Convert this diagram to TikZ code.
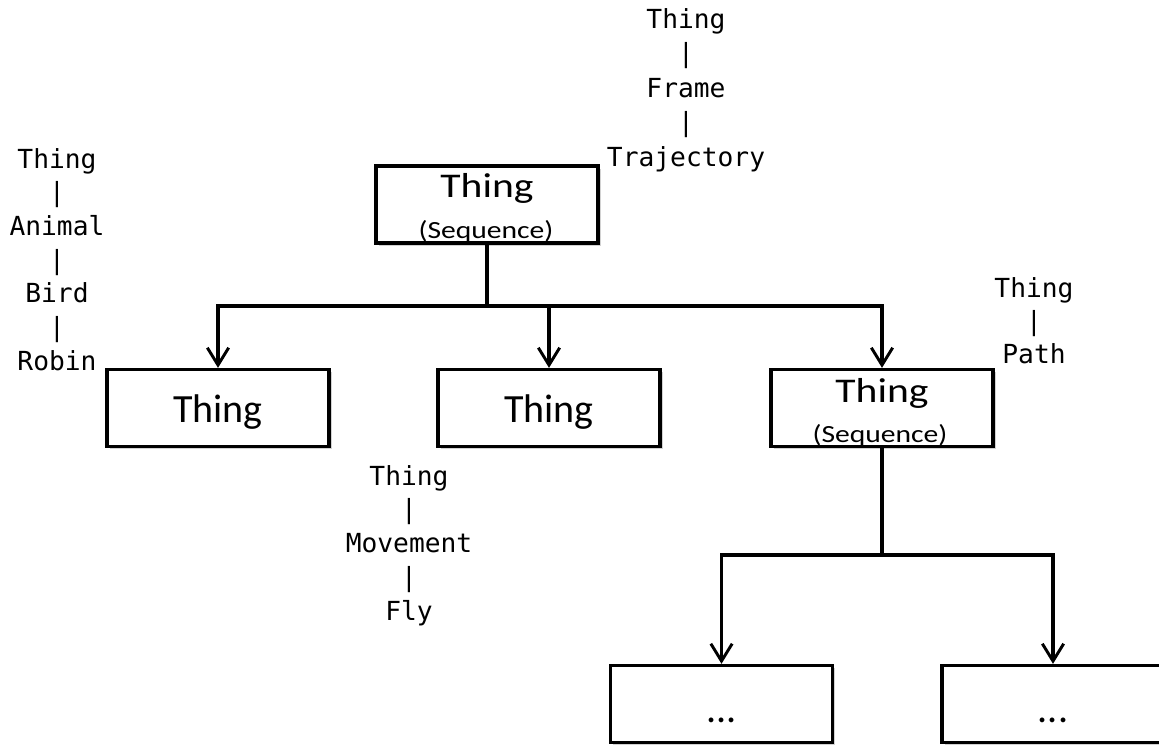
\documentclass[tikz,border=0pt]{standalone}
\usepackage{fontspec}
\setmainfont{Carlito}
\newfontfamily\labelmono{DejaVu Sans Mono}
\usetikzlibrary{arrows.meta,shadows}

\begin{document}
\begin{tikzpicture}[x=0.75pt,y=-0.75pt,
  box/.style={draw, line width=2.5pt, fill=white, inner sep=0pt,
    minimum width=166.5pt, minimum height=57.75pt,
    drop shadow={shadow xshift=2pt, shadow yshift=-2pt, fill=black!35, opacity=0.5}},
  conn/.style={line width=2.4pt},
  arr/.style={conn, -{Straight Barb[length=13pt,width=16pt,line width=2.2pt]}},
  mono/.style={font=\labelmono\fontsize{19.7pt}{24pt}\selectfont, anchor=base, inner sep=0pt},
  big/.style={font=\fontsize{30pt}{36pt}\selectfont, anchor=base, inner sep=0pt},
  seqthing/.style={font=\fontsize{26pt}{30pt}\selectfont, anchor=base, inner sep=0pt},
  seqsub/.style={font=\fontsize{18.5pt}{22pt}\selectfont, anchor=base, inner sep=0pt},
]
\path[use as bounding box] (0,0) rectangle (1159,747);
\clip (0,0) rectangle (1159,747);

% boxes
\node[box] (seqtop)   at (487,204.5) {};
\node[box] (leafA)    at (218,408) {};
\node[box] (leafB)    at (549,408) {};
\node[box] (seqright) at (882,408) {};
\node[box] (dotsA)    at (721.5,704) {};
\node[box] (dotsB)    at (1053,704) {};

% box texts
\node[seqthing] (seqtopT) at (487,197) {\scalebox{1.2}[1]{Thing}};
\node[seqsub]   (seqtopS) at (486,238) {\scalebox{1.2}[1]{(Sequence)}};
\node[big] (leafAT) at (218,422) {Thing};
\node[big] (leafBT) at (549,422) {Thing};
\node[seqthing] (seqrightT) at (882,402) {\scalebox{1.2}[1]{Thing}};
\node[seqsub]   (seqrightS) at (880,442) {\scalebox{1.2}[1]{(Sequence)}};
\node[big] (dotsAT) at (721.5,722) {...};
\node[big] (dotsBT) at (1053,722) {...};

% first level connectors
\coordinate (forkA) at (487,306);
\draw[conn] (seqtop.south) -- (forkA);
\draw[conn, line cap=rect] (leafA.north |- forkA) -- (seqright.north |- forkA);
\draw[arr] (leafA.north |- forkA) -- (leafA.north);
\draw[arr] (leafB.north |- forkA) -- (leafB.north);
\draw[arr] (seqright.north |- forkA) -- (seqright.north);

% second level connectors
\coordinate (forkB) at (882,555);
\draw[conn] (seqright.south) -- (forkB);
\draw[conn, line cap=rect] (dotsA.north |- forkB) -- (dotsB.north |- forkB);
\draw[arr] (dotsA.north |- forkB) -- (dotsA.north);
\draw[arr] (dotsB.north |- forkB) -- (dotsB.north);

% type chains
\node[mono] (robin1) at (57,168)   {Thing};
\node[mono] (robin2) at (57,201.7) {|};
\node[mono] (robin3) at (57,235.4) {Animal};
\node[mono] (robin4) at (57,269)   {|};
\node[mono] (robin5) at (57,302.8) {Bird};
\node[mono] (robin6) at (57,336.5) {|};
\node[mono] (robin7) at (57,370)   {Robin};

\node[mono] (traj1) at (686,28)    {Thing};
\node[mono] (traj2) at (686,62.5)  {|};
\node[mono] (traj3) at (686,97)    {Frame};
\node[mono] (traj4) at (686,131.5) {|};
\node[mono] (traj5) at (686,166)   {Trajectory};

\node[mono] (fly1) at (409,485)   {Thing};
\node[mono] (fly2) at (409,518.7) {|};
\node[mono] (fly3) at (409,552.5) {Movement};
\node[mono] (fly4) at (409,586)   {|};
\node[mono] (fly5) at (409,620)   {Fly};

\node[mono] (path1) at (1034,297) {Thing};
\node[mono] (path2) at (1034,330) {|};
\node[mono] (path3) at (1034,363) {Path};
\end{tikzpicture}
\end{document}
